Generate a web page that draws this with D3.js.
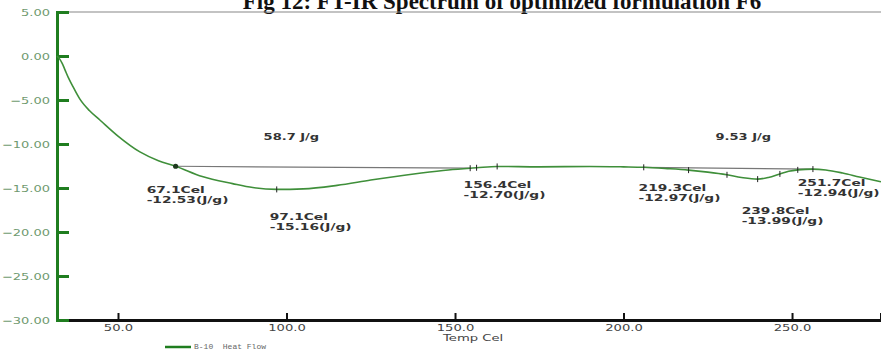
<!DOCTYPE html>
<html>
<head>
<meta charset="utf-8">
<script src="https://cdn.jsdelivr.net/npm/d3@7"></script>
<style>
  body { margin: 0; background: #fff; }
  svg { display: block; }
</style>
</head>
<body>
<svg id="chart" width="881" height="351"></svg>
<script>
// curve: temperature (Cel) vs heat flow
const temps = [31.9, 32.6, 33.4, 34.3, 35.2, 36.4, 38.7, 41.5, 44.7, 50, 56.5, 62, 67.1, 75, 84, 90, 97.1,
  105, 115, 125, 135, 140, 148, 154.5, 156.4, 162.5, 175, 190, 200, 206, 213, 219.3, 225, 230.7, 235,
  239.8, 243, 246.4, 249, 251.7, 256.2, 260, 265, 270, 276.4];
const heatFlow = [0.0, -0.3, -0.8, -1.6, -2.4, -3.3, -4.9, -6.2, -7.3, -9.1, -10.9, -11.9, -12.53, -13.7, -14.5, -14.95, -15.16,
  -15.1, -14.7, -14.1, -13.55, -13.3, -12.95, -12.75, -12.7, -12.55, -12.6, -12.55, -12.6, -12.65, -12.8, -12.97, -13.2, -13.5, -13.8,
  -13.99, -13.8, -13.4, -13.1, -12.94, -12.85, -12.95, -13.3, -13.75, -14.3];

// picked peaks
const peakTemps = [67.1, 97.1, 156.4, 219.3, 239.8, 251.7];
const peakValues = [-12.53, -15.16, -12.70, -12.97, -13.99, -12.94];
const peakLabelShift = [[-29, 27], [-7, 31], [-13, 20], [-50, 21], [-16, 35], [0, 16]];

// small cross marks along the curve
const markTemps = [97.1, 154.5, 156.4, 162.5, 206, 219.3, 230.7, 239.8, 246.4, 251.7, 256.2];

// integration baselines and their enthalpies
const baseStart = [67.1, 206];
const baseEnd = [154.5, 256.2];
const enthalpyLabels = ["58.7 J/g", "9.53 J/g"];
const enthalpyTemps = [93.2, 227.3];

const yTicks = [5, 0, -5, -10, -15, -20, -25, -30];
const xTicks = [50, 100, 150, 200, 250];

const svg = d3.select("#chart");
const x = d3.scaleLinear().domain([31.9, 276.4]).range([57, 881]);
const y = d3.scaleLinear().domain([5, -30]).range([12, 320]);

const green = "#1f7d1f";
const curveGreen = "#3f8f3a";

// title (partly cut at top)
svg.append("text")
  .attr("x", 502).attr("y", 9)
  .attr("text-anchor", "middle")
  .style("font-family", "Liberation Serif, Times New Roman, serif")
  .style("font-weight", "bold")
  .style("font-size", "23px")
  .style("fill", "#111")
  .text("Fig 12: FT-IR Spectrum of optimized formulation F6");

// top frame line
svg.append("line")
  .attr("x1", 57).attr("x2", 881).attr("y1", y(5)).attr("y2", y(5))
  .style("stroke", "#888").style("stroke-width", 1.2);

// x axis
const xAxis = svg.append("g")
  .attr("transform", `translate(0,${y(-30)})`)
  .call(d3.axisBottom(x).tickValues(xTicks).tickSize(-7).tickFormat(d3.format(".1f")));
xAxis.select(".domain").style("stroke", "#111").style("stroke-width", 3);
xAxis.selectAll(".tick line").style("stroke", "#111").style("stroke-width", 2);
xAxis.selectAll(".tick text")
  .attr("y", 11).attr("dy", 0)
  .attr("transform", "scale(1.55,1)")
  .style("font-family", "DejaVu Sans, Verdana, sans-serif")
  .style("font-size", "8.5px")
  .style("fill", "#444");

svg.append("text")
  .attr("transform", `translate(443,${y(-30) + 21}) scale(1.55,1)`)
  .style("font-family", "DejaVu Sans, Verdana, sans-serif")
  .style("font-size", "8.5px")
  .style("fill", "#444")
  .text("Temp Cel");

// y axis
const yAxis = svg.append("g")
  .attr("transform", `translate(${x(31.9)},0)`)
  .call(d3.axisLeft(y).tickValues(yTicks).tickSize(-12).tickFormat(d3.format(".2f")));
yAxis.select(".domain").style("stroke", green).style("stroke-width", 3);
yAxis.selectAll(".tick line").style("stroke", green).style("stroke-width", 3);
yAxis.selectAll(".tick text")
  .attr("x", -7 / 1.37)
  .attr("transform", "scale(1.37,1)")
  .style("font-family", "DejaVu Sans, Verdana, sans-serif")
  .style("font-size", "9.5px")
  .style("fill", "#6f9a6f");

// baselines
svg.selectAll(".baseline")
  .data(baseStart)
  .enter()
  .append("line")
  .attr("class", "baseline")
  .attr("x1", d => x(d))
  .attr("x2", (d, i) => x(baseEnd[i]))
  .attr("y1", d => y(heatFlow[temps.indexOf(d)]))
  .attr("y2", (d, i) => y(heatFlow[temps.indexOf(baseEnd[i])]))
  .style("stroke", "#777")
  .style("stroke-width", 1.2);

// curve
const pts = temps.map((t, i) => [t, heatFlow[i]]);
svg.append("path")
  .datum(pts)
  .attr("d", d3.line().x(d => x(d[0])).y(d => y(d[1])).curve(d3.curveMonotoneX))
  .style("fill", "none")
  .style("stroke", curveGreen)
  .style("stroke-width", 1.6);

// cross marks
svg.selectAll(".mark")
  .data(markTemps)
  .enter()
  .append("line")
  .attr("class", "mark")
  .attr("x1", d => x(d)).attr("x2", d => x(d))
  .attr("y1", d => y(heatFlow[temps.indexOf(d)]) - 3)
  .attr("y2", d => y(heatFlow[temps.indexOf(d)]) + 3)
  .style("stroke", "#222")
  .style("stroke-width", 1);

svg.append("circle")
  .attr("cx", x(peakTemps[0])).attr("cy", y(peakValues[0]))
  .attr("r", 2.6)
  .style("fill", "#1d3a1d");

// peak annotations
const ann = svg.selectAll(".ann")
  .data(peakTemps)
  .enter()
  .append("g")
  .attr("class", "ann")
  .attr("transform", (d, i) => `translate(${x(d) + peakLabelShift[i][0]},${y(peakValues[i]) + peakLabelShift[i][1]}) scale(1.45,1)`)
  .style("font-family", "DejaVu Sans, Verdana, sans-serif")
  .style("font-weight", "bold")
  .style("font-size", "9.5px")
  .style("fill", "#333");
ann.append("text").text(d => d.toFixed(1) + "Cel");
ann.append("text").attr("y", 10).text((d, i) => peakValues[i].toFixed(2) + "(J/g)");

// enthalpy labels
svg.selectAll(".enth")
  .data(enthalpyLabels)
  .enter()
  .append("text")
  .attr("class", "enth")
  .attr("transform", (d, i) => `translate(${x(enthalpyTemps[i])},140) scale(1.45,1)`)
  .style("font-family", "DejaVu Sans, Verdana, sans-serif")
  .style("font-weight", "bold")
  .style("font-size", "9px")
  .style("fill", "#333")
  .text(d => d);

// legend
svg.append("line")
  .attr("x1", 165).attr("x2", 191).attr("y1", 347).attr("y2", 347)
  .style("stroke", green).style("stroke-width", 2.5);
svg.append("text")
  .attr("x", 194).attr("y", 348.5)
  .attr("xml:space", "preserve")
  .style("font-family", "Liberation Mono, DejaVu Sans Mono, monospace")
  .style("font-size", "8px")
  .style("fill", "#666")
  .text("B-10  Heat Flow");
</script>
</body>
</html>
